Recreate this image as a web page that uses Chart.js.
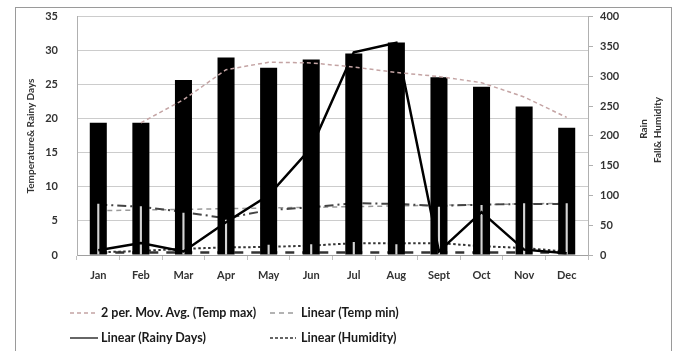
<!DOCTYPE html>
<html>
<head>
<meta charset="utf-8">
<script src="https://cdn.jsdelivr.net/npm/chart.js@4/dist/chart.umd.min.js"></script>
<style>
  html, body { margin: 0; padding: 0; background: #fff; }
  #wrap { position: relative; width: 682px; height: 351px; overflow: hidden; font-family: Lato, "Open Sans", sans-serif; }
  #frame { position: absolute; left: 15px; top: 7px; width: 657px; height: 360px; border: 1px solid #9a9a9a; box-sizing: border-box; }
  canvas { position: absolute; left: 0; top: -9px; }
  .ttl { position: absolute; font-size: 10px; font-weight: bold; color: #333; white-space: nowrap; transform-origin: center center; }
  .lg { position: absolute; font-size: 12.5px; font-weight: bold; color: #1a1a1a; white-space: nowrap; line-height: 14px; }
  .lg svg { position: absolute; }
</style>
</head>
<body>
<div id="wrap">
  <div id="frame"></div>
  <canvas id="c" width="682" height="360"></canvas>
  <div class="ttl" style="left:-45px; top:130px; width:150px; text-align:center; transform: rotate(-90deg);">Temperature&amp; Rainy Days</div>
  <div class="ttl" style="left:593px; top:123px; width:100px; text-align:center; transform: rotate(-90deg);">Rain</div>
  <div class="ttl" style="left:607px; top:124px; width:100px; text-align:center; transform: rotate(-90deg);">Fall&amp; Humidity</div>

  <div class="lg" style="left:70px; top:306px;"><svg width="30" height="14" style="left:0;top:0"><line x1="0" y1="7" x2="28" y2="7" stroke="#c4a4a4" stroke-width="1.5" stroke-dasharray="4 3"/></svg><span style="position:absolute;left:31px;top:0">2 per. Mov. Avg. (Temp max)</span></div>
  <div class="lg" style="left:270px; top:306px;"><svg width="30" height="14" style="left:0;top:0"><line x1="0" y1="7" x2="26" y2="7" stroke="#9a9a9a" stroke-width="1.5" stroke-dasharray="5 4"/></svg><span style="position:absolute;left:31px;top:0">Linear (Temp min)</span></div>
  <div class="lg" style="left:70px; top:331px;"><svg width="30" height="14" style="left:0;top:0"><line x1="0" y1="7" x2="28" y2="7" stroke="#666" stroke-width="2"/></svg><span style="position:absolute;left:31px;top:0">Linear (Rainy Days)</span></div>
  <div class="lg" style="left:270px; top:331px;"><svg width="30" height="14" style="left:0;top:0"><line x1="0" y1="7" x2="26" y2="7" stroke="#333" stroke-width="1.5" stroke-dasharray="3 2"/></svg><span style="position:absolute;left:31px;top:0">Linear (Humidity)</span></div>
</div>
<script>
const months = ['Jan','Feb','Mar','Apr','May','Jun','Jul','Aug','Sept','Oct','Nov','Dec'];
const tempMax = [19.4, 19.4, 25.7, 29.0, 27.5, 28.7, 29.6, 31.2, 26.1, 24.7, 21.8, 18.7];
const humidityBars = [86, 82, 71, 59, 17, 18, 22, 18, 81, 84, 87, 87];
const rainFall = [8, 20, 6, 55, 100, 180, 340, 356, 6, 72, 9, 3];
const movAvgTempMax = [null, 19.4, 22.8, 27.2, 28.3, 28.2, 27.6, 26.8, 26.2, 25.3, 23.2, 20.2];
const tempMinLine = [7.4, 7.1, 6.3, 5.4, 6.6, 7.0, 7.6, 7.5, 7.2, 7.4, 7.5, 7.5];
const linearTempMin = [6.5, 6.6, 6.7, 6.8, 6.9, 7.0, 7.1, 7.2, 7.3, 7.4, 7.5, 7.6];
const linearHumidity = [0.4, 0.6, 0.9, 1.1, 1.2, 1.4, 1.7, 1.7, 1.7, 1.3, 1.0, 0.5];
const linearRainyDays = [0.35, 0.35, 0.35, 0.35, 0.35, 0.35, 0.35, 0.35, 0.35, 0.35, 0.35, 0.35];
const leftTicks = [0, 5, 10, 15, 20, 25, 30, 35];
const rightTicks = [0, 50, 100, 150, 200, 250, 300, 350, 400];

const tickFont = { family: 'Lato', size: 11, weight: 'bold' };

new Chart(document.getElementById('c'), {
  type: 'bar',
  data: {
    labels: months,
    datasets: [
      { type: 'line', label: 'Linear (Rainy Days)', data: linearRainyDays, yAxisID: 'y', borderColor: '#333', borderWidth: 2.5, borderDash: [9, 8], pointRadius: 0, order: 8 },
      { type: 'line', label: 'Linear (Humidity)', data: linearHumidity, yAxisID: 'y', borderColor: '#333', borderWidth: 2, borderDash: [2.5, 2.5], pointRadius: 0, tension: 0.4, order: 8 },
      { type: 'line', label: 'Temp min', data: tempMinLine, yAxisID: 'y', borderColor: '#444', borderWidth: 2, borderDash: [9, 4, 2, 4], pointRadius: 0, order: 8 },
      { type: 'line', label: 'Linear (Temp min)', data: linearTempMin, yAxisID: 'y', borderColor: '#9a9a9a', borderWidth: 1.5, borderDash: [5, 4], pointRadius: 0, order: 8 },
      { type: 'bar', label: 'Temp max', data: tempMax, yAxisID: 'y', backgroundColor: '#000', barPercentage: 0.4, categoryPercentage: 1, grouped: false, order: 5 },
      { type: 'bar', label: 'Humidity', data: humidityBars, yAxisID: 'y1', backgroundColor: '#d4d4d4', barPercentage: 0.05, categoryPercentage: 1, grouped: false, order: 4 },
      { type: 'line', label: '2 per. Mov. Avg. (Temp max)', data: movAvgTempMax, yAxisID: 'y', borderColor: '#c4a4a4', borderWidth: 1.5, borderDash: [4, 3], pointRadius: 0, order: 2 },
      { type: 'line', label: 'Rain Fall', data: rainFall, yAxisID: 'y1', borderColor: '#000', borderWidth: 2.5, pointRadius: 0, order: 1 }
    ]
  },
  options: {
    responsive: false,
    animation: false,
    devicePixelRatio: 1,
    layout: { padding: { left: 0, right: 0, top: 0, bottom: 66 } },
    plugins: { legend: { display: false }, tooltip: { enabled: false } },
    scales: {
      x: {
        offset: true,
        grid: { offset: true, drawOnChartArea: false, tickLength: 5, color: '#c0c0c0' },
        border: { color: '#a0a0a0' },
        ticks: { font: tickFont, color: '#333', padding: 9, maxRotation: 0 },
        afterFit: s => { s.height = 30; }
      },
      y: {
        position: 'left',
        min: 0, max: 35,
        afterBuildTicks: s => { s.ticks = leftTicks.map(v => ({ value: v })); },
        grid: { color: '#cccccc', drawTicks: false },
        border: { color: '#b0b0b0' },
        ticks: { font: tickFont, color: '#333', padding: 19 },
        afterFit: s => { s.width = 77; }
      },
      y1: {
        position: 'right',
        min: 0, max: 400,
        afterBuildTicks: s => { s.ticks = rightTicks.map(v => ({ value: v })); },
        grid: { drawOnChartArea: false, tickLength: 5, color: '#b0b0b0' },
        border: { color: '#b0b0b0' },
        ticks: { font: tickFont, color: '#333', padding: 7 },
        afterFit: s => { s.width = 94; }
      }
    }
  }
});
</script>
</body>
</html>
